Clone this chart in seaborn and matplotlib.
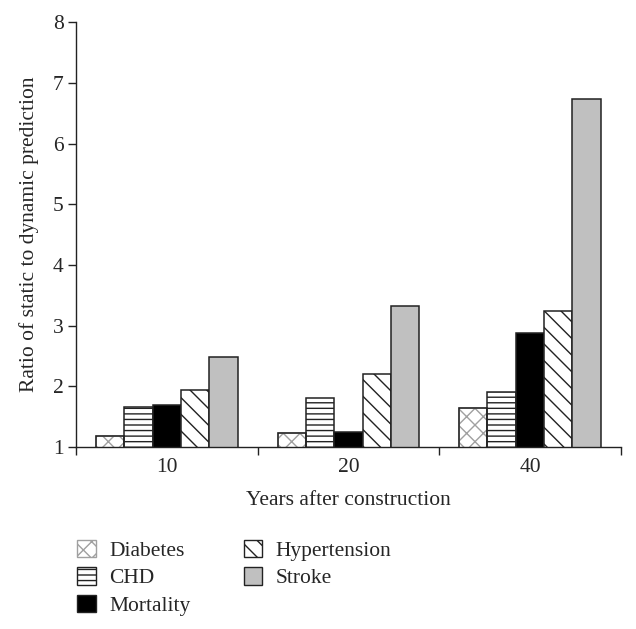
# Grouped bar chart: ratio of static to dynamic prediction by years after construction

import pandas as pd
import matplotlib
matplotlib.use("Agg")
import matplotlib.pyplot as plt
import seaborn as sns
from matplotlib.patches import Patch, Rectangle

# Data

years = ["10", "20", "40"]
outcomes = ["Diabetes", "CHD", "Mortality", "Hypertension", "Stroke"]
diabetes = [1.18, 1.24, 1.64]
chd = [1.66, 1.81, 1.91]
mortality = [1.70, 1.25, 2.88]
hypertension = [1.94, 2.20, 3.24]
stroke = [2.49, 3.33, 6.73]

values = [diabetes, chd, mortality, hypertension, stroke]
rows = []
for name, vals in zip(outcomes, values):
    for yr, v in zip(years, vals):
        rows.append({"year": yr, "outcome": name, "ratio": v})
df = pd.DataFrame(rows)

# Styles

fills = {"Diabetes": "white", "CHD": "white", "Mortality": "black",
         "Hypertension": "white", "Stroke": "#c0c0c0"}
hatches = {"Diabetes": "xx", "CHD": "---", "Mortality": "",
           "Hypertension": "\\\\", "Stroke": ""}
edge = "#222222"
light = "#a0a0a0"

sns.set_style("white")
plt.rcParams["font.family"] = ["Liberation Serif", "DejaVu Serif"]
plt.rcParams["hatch.linewidth"] = 1.0

fig = plt.figure(figsize=(6.36, 6.29), dpi=100)
ax = fig.add_axes([0.1195, 0.289, 0.8565, 0.676])

sns.barplot(data=df, x="year", y="ratio", hue="outcome", order=years,
            hue_order=outcomes, width=0.78, ax=ax, legend=False,
            edgecolor=edge, linewidth=1.1, saturation=1)

for name, cont in zip(outcomes, list(ax.containers)):
    for bar in cont:
        bar.set_facecolor(fills[name])
        bar.set_hatch(hatches[name])
        if name == "Diabetes":
            # light hatch, dark outline drawn on top
            bar.set_edgecolor(light)
            ax.add_patch(Rectangle(bar.get_xy(), bar.get_width(), bar.get_height(),
                                   fill=False, edgecolor=edge, linewidth=1.1, zorder=bar.get_zorder() + 0.1))

# Axes

ax.set_ylim(1, 8)
ax.set_xlim(-0.5, 2.5)
ax.set_yticks(range(1, 9))
ax.set_xticks([0, 1, 2])
ax.set_xticks([-0.5, 0.5, 1.5, 2.5], minor=True)
ax.tick_params(axis="x", which="major", bottom=True, length=0, labelsize=15.5, pad=8)
ax.tick_params(axis="x", which="minor", bottom=True, length=6, width=1, direction="out", color=edge)
ax.tick_params(axis="y", left=True, length=6, width=1, direction="out", labelsize=15.5, color=edge, pad=3)
for s in ["top", "right"]:
    ax.spines[s].set_visible(False)
for s in ["left", "bottom"]:
    ax.spines[s].set_color(edge)
    ax.spines[s].set_linewidth(1.0)

ax.set_xlabel("Years after construction", fontsize=15.5, labelpad=10)
ax.set_ylabel("Ratio of static to dynamic prediction", fontsize=15.5, labelpad=10)

# Legend below the plot

handles = [Patch(facecolor=fills[n], edgecolor=light if n == "Diabetes" else edge,
                 hatch=hatches[n], label=n) for n in outcomes]
leg = fig.legend(handles=handles, loc="upper left", ncol=2, frameon=False,
                 bbox_to_anchor=(0.108, 0.155), fontsize=15.5, handlelength=0.85,
                 handleheight=0.85, columnspacing=2.5, labelspacing=0.29,
                 handletextpad=0.62, borderaxespad=0)

plt.savefig("out.png", dpi=100)
